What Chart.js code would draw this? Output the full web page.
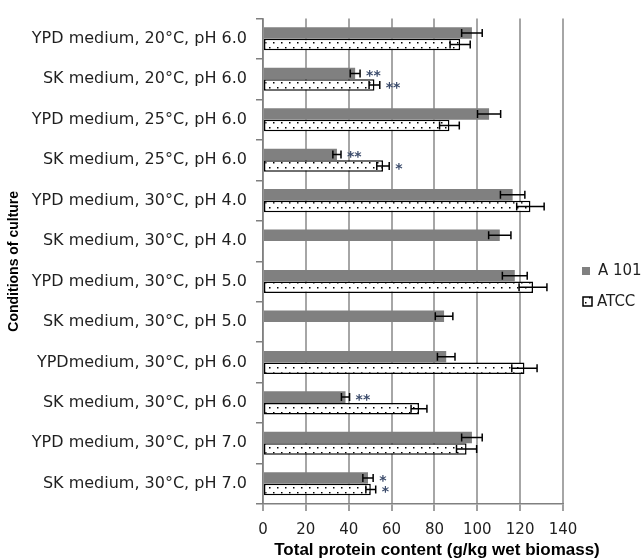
<!DOCTYPE html>
<html>
<head>
<meta charset="utf-8">
<script src="https://cdn.jsdelivr.net/npm/chart.js@4.4.1/dist/chart.umd.min.js"></script>
<style>
  body { margin: 0; background: #fff; }
  canvas { display: block; }
</style>
</head>
<body>
<canvas id="myChart" width="643" height="560"></canvas>
<script>
// conditions of culture (top to bottom)
const categories = [
  'YPD medium, 20°C, pH 6.0',
  'SK medium, 20°C, pH 6.0',
  'YPD medium, 25°C, pH 6.0',
  'SK medium, 25°C, pH 6.0',
  'YPD medium, 30°C, pH 4.0',
  'SK medium, 30°C, pH 4.0',
  'YPD medium, 30°C, pH 5.0',
  'SK medium, 30°C, pH 5.0',
  'YPDmedium, 30°C, pH 6.0',
  'SK medium, 30°C, pH 6.0',
  'YPD medium, 30°C, pH 7.0',
  'SK medium, 30°C, pH 7.0'
];
const a101 = [97.5, 43, 105.5, 34.5, 116.5, 110.5, 117.5, 84.5, 85.5, 38.5, 97.5, 49];
const a101Err = [4.8, 2.3, 5.4, 1.9, 5.7, 5.2, 5.8, 4.1, 4.1, 1.9, 4.8, 2.4];
const atcc = [92, 52, 87, 56, 124.8, null, 126, null, 122, 72.8, 95, 50.3];
const atccErr = [4.7, 2.5, 4.6, 2.9, 6.4, null, 6.5, null, 5.9, 3.7, 4.7, 2.3];
const a101Stars = ['', '**', '', '**', '', '', '', '', '', '**', '', '*'];
const atccStars = ['', '**', '', '*', '', '', '', '', '', '', '', '*'];
const xMin = 0, xMax = 140, xStep = 20;

// dotted fill for ATCC
function dots() {
  const c = document.createElement('canvas');
  c.width = 8; c.height = 10;
  const g = c.getContext('2d');
  g.fillStyle = '#fff';
  g.fillRect(0, 0, 8, 10);
  g.fillStyle = '#000';
  g.fillRect(1, 2, 1.5, 1.5);
  g.fillRect(5, 7, 1.5, 1.5);
  return g.createPattern(c, 'repeat');
}
const ctx0 = document.getElementById('myChart').getContext('2d');
const dotFill = dots();

const extras = {
  id: 'extras',
  afterDatasetsDraw(chart) {
    const ctx = chart.ctx, xs = chart.scales.x;
    const errs = [a101Err, atccErr], stars = [a101Stars, atccStars];
    chart.data.datasets.forEach((ds, i) => {
      chart.getDatasetMeta(i).data.forEach((bar, j) => {
        const v = ds.data[j];
        if (v == null) return;
        const e = errs[i][j];
        const x0 = xs.getPixelForValue(v - e), x1 = xs.getPixelForValue(v + e), y = bar.y;
        ctx.save();
        ctx.strokeStyle = '#000';
        ctx.lineWidth = 1.5;
        ctx.beginPath();
        ctx.moveTo(x0, y); ctx.lineTo(x1, y);
        ctx.moveTo(x0, y - 4); ctx.lineTo(x0, y + 4);
        ctx.moveTo(x1, y - 4); ctx.lineTo(x1, y + 4);
        ctx.stroke();
        if (stars[i][j]) {
          ctx.fillStyle = '#3a4a6a';
          ctx.font = 'bold 14px "DejaVu Sans"';
          ctx.textBaseline = 'middle';
          ctx.fillText(stars[i][j], x1 + 6, y + 3);
        }
        ctx.restore();
      });
    });
  },
  afterDraw(chart) {
    const ctx = chart.ctx, a = chart.chartArea;
    ctx.save();
    // legend
    const lx = a.right + 19;
    ctx.fillStyle = '#808080';
    ctx.fillRect(lx, 267, 8, 8);
    ctx.fillStyle = dotFill;
    ctx.fillRect(lx + 1, 297, 9, 9);
    ctx.strokeStyle = '#000';
    ctx.lineWidth = 1.5;
    ctx.strokeRect(lx + 1, 297, 9, 9);
    ctx.fillStyle = '#1f1f1f';
    ctx.font = '15px "DejaVu Sans"';
    ctx.textBaseline = 'middle';
    ctx.fillText(chart.data.datasets[0].label, lx + 16, 271);
    ctx.fillText(chart.data.datasets[1].label, lx + 15, 302);
    // x title
    ctx.font = 'bold 17px "Liberation Sans"';
    ctx.textAlign = 'center';
    ctx.fillStyle = '#000';
    ctx.fillText('Total protein content (g/kg wet biomass)', 437, 550);
    ctx.restore();
  }
};

new Chart(ctx0, {
  type: 'bar',
  data: {
    labels: categories,
    datasets: [
      { label: 'A 101', data: a101, backgroundColor: '#808080', borderWidth: 0 },
      { label: 'ATCC', data: atcc, backgroundColor: dotFill, borderColor: '#000',
        borderWidth: 1.5, borderSkipped: false }
    ]
  },
  options: {
    indexAxis: 'y',
    responsive: false,
    animation: false,
    layout: { padding: { top: 17, right: 80, left: 0, bottom: 0 } },
    datasets: { bar: { categoryPercentage: 0.57, barPercentage: 1 } },
    plugins: { legend: { display: false }, tooltip: { enabled: false } },
    scales: {
      x: {
        min: xMin, max: xMax,
        ticks: { stepSize: xStep, padding: 10, color: '#1f1f1f', font: { family: 'DejaVu Sans', size: 15 } },
        grid: { color: '#a6a6a6', lineWidth: 2, tickLength: 7, tickColor: '#7f7f7f', tickWidth: 1.5 },
        border: { color: '#808080', width: 1.5 },
        afterFit: s => { s.height = 56; }
      },
      y: {
        ticks: { padding: 9, color: '#1f1f1f', font: { family: 'DejaVu Sans', size: 16 } },
        grid: { drawOnChartArea: false, tickLength: 7, color: '#7f7f7f', lineWidth: 1.5 },
        border: { color: '#808080', width: 1.5 },
        title: { display: true, text: 'Conditions of culture', color: '#000',
          font: { family: 'Liberation Sans', size: 14, weight: 'bold' }, padding: { top: 6, bottom: 0 } },
        afterFit: s => { s.width = 263; }
      }
    }
  },
  plugins: [extras]
});
</script>
</body>
</html>
